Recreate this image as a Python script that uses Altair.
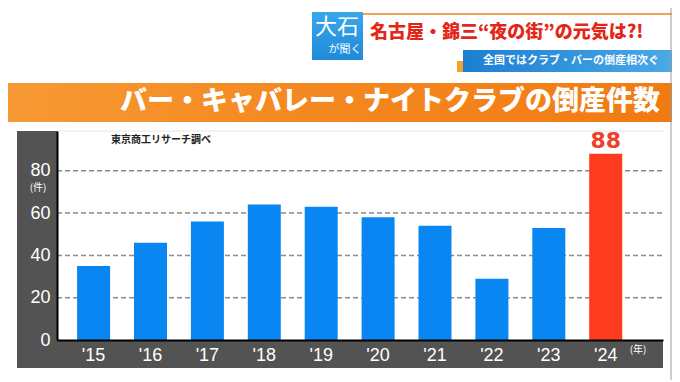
import altair as alt
import pandas as pd

years = ["'15", "'16", "'17", "'18", "'19", "'20", "'21", "'22", "'23", "'24"]
counts = [35, 46, 56, 64, 63, 58, 54, 29, 53, 88]
grid_values = [20, 40, 60, 80]
y_ticks = [0, 20, 40, 60, 80]

title_text = "バー・キャバレー・ナイトクラブの倒産件数"
header_text = "名古屋・錦三“夜の街”の元気は?!"
sub_text = "全国ではクラブ・バーの倒産相次ぐ"
source_text = "東京商工リサーチ調べ"

df = pd.DataFrame({"year": years, "count": counts})
grid_df = pd.DataFrame({"v": grid_values})
last_df = df[df["year"] == "'24"]

W, H = 606, 209
BLUE = "#0a86f2"
RED = "#ff3b1f"
DARK = "#535353"
JP = "Noto Sans CJK JP"
NUM = "Liberation Sans"

xscale = alt.Scale(domain=years, paddingInner=0.42, paddingOuter=0.535, align=0.33)
yscale = alt.Scale(domain=[0, 98.8], nice=False)

one = pd.DataFrame({"a": [0]})
base1 = alt.Chart(one)

def rect(x, x2, y, y2, color, **kw):
    return base1.mark_rect(color=color, **kw).encode(
        x=alt.value(x), x2=alt.value(x2), y=alt.value(y), y2=alt.value(y2))

def txt(s, x, y, size, color, weight="bold", align="center", font=JP, baseline="middle"):
    return base1.mark_text(text=s, fontSize=size, color=color, fontWeight=weight,
                           align=align, baseline=baseline, font=font).encode(
        x=alt.value(x), y=alt.value(y))

# panels
ypanel = rect(-40, 0, 0, 237, DARK)
xpanel = rect(-40, W, H, 237, DARK)
topline = base1.mark_rule(color="#e6e6e6", strokeWidth=1).encode(
    x=alt.value(0), x2=alt.value(W), y=alt.value(0))

banner = base1.mark_rect(
    fill=alt.Gradient(gradient="linear",
                      stops=[alt.GradientStop(color="#f79a35", offset=0),
                             alt.GradientStop(color="#f58a22", offset=0.4),
                             alt.GradientStop(color="#f27a12", offset=1)],
                      x1=0, x2=1, y1=0, y2=0)
).encode(x=alt.value(-57), x2=alt.value(W + 9), y=alt.value(-48), y2=alt.value(-9))
title = txt(title_text, 603, -29, 27, "white", align="right", weight=900)

orange_line = base1.mark_rule(color="#f2a253", strokeWidth=2).encode(
    x=alt.value(306), x2=alt.value(W + 9), y=alt.value(-117))
logo = base1.mark_rect(
    fill=alt.Gradient(gradient="linear",
                      stops=[alt.GradientStop(color="#3aa6ea", offset=0),
                             alt.GradientStop(color="#1f8ad8", offset=1)],
                      x1=0, x2=0, y1=0, y2=1)
).encode(x=alt.value(255), x2=alt.value(306), y=alt.value(-119), y2=alt.value(-71))
logo1 = txt("大石", 280, -104, 22, "white", weight="normal")
logo2 = txt("が聞く", 288, -81, 11, "white", weight="normal")
header = txt(header_text, 313, -98, 18, "#e52617", align="left", weight=900)

subbox = base1.mark_rect(
    fill=alt.Gradient(gradient="linear",
                      stops=[alt.GradientStop(color="#1c7fd2", offset=0),
                             alt.GradientStop(color="#4aa9e6", offset=1)],
                      x1=0, x2=1, y1=0, y2=0)
).encode(x=alt.value(406), x2=alt.value(W + 9), y=alt.value(-81), y2=alt.value(-59))
subtri = base1.mark_rect(color="#f5a030").encode(
    x=alt.value(400), x2=alt.value(406), y=alt.value(-70), y2=alt.value(-59))
sub = txt(sub_text, 514, -70, 11, "white")

source = txt(source_text, 54, 9, 10, "#222222", align="left")
unit_y = txt("(件)", -19, 57, 10, "white", weight="normal")
unit_x = txt("(年)", 581, 219, 10, "white", weight="normal")
right_border = base1.mark_rule(color="#9a9a9a", strokeWidth=1).encode(
    x=alt.value(W + 8), y=alt.value(-131), y2=alt.value(251))

grid = alt.Chart(grid_df).mark_rule(color="#8a8a8a", strokeWidth=1.5, strokeDash=[5, 3]).encode(
    y=alt.Y("v:Q", scale=yscale),
    x=alt.value(0), x2=alt.value(W))

bars = alt.Chart(df).mark_bar().encode(
    x=alt.X("year:N", scale=xscale, sort=years,
            axis=alt.Axis(title=None, labelAngle=0, ticks=False, tickSize=0,
                          labelColor="white", labelFont=NUM, labelFontSize=18,
                          labelPadding=6, domainColor="black", domainWidth=2,
                          grid=False, zindex=2)),
    y=alt.Y("count:Q", scale=yscale,
            axis=alt.Axis(title=None, values=y_ticks, ticks=False, tickSize=0,
                          labelColor="white", labelFont=NUM, labelFontSize=18,
                          labelPadding=7, domainColor="black", domainWidth=2,
                          grid=False, zindex=2)),
    color=alt.condition(alt.datum.year == "'24", alt.value(RED), alt.value(BLUE)),
)

label88 = alt.Chart(last_df).mark_text(
    font="DejaVu Sans", fontWeight="bold", fontSize=22, color="#f0402a",
    baseline="alphabetic", dy=-6).encode(
    x=alt.X("year:N", scale=xscale, sort=years),
    y=alt.Y("count:Q", scale=yscale),
    text=alt.Text("count:Q"))

chart = alt.layer(
    ypanel, xpanel, topline, grid, bars, label88,
    banner, title, orange_line, logo, logo1, logo2, header,
    subtri, subbox, sub, source, unit_y, unit_x, right_border,
).properties(
    width=W, height=H,
    autosize=alt.AutoSizeParams(type="none"),
    padding={"left": 49, "top": 123, "right": 9, "bottom": 40},
    background="white",
).configure_view(strokeWidth=0)

chart.save("out.html", embed_options={"renderer": "svg", "actions": False})
